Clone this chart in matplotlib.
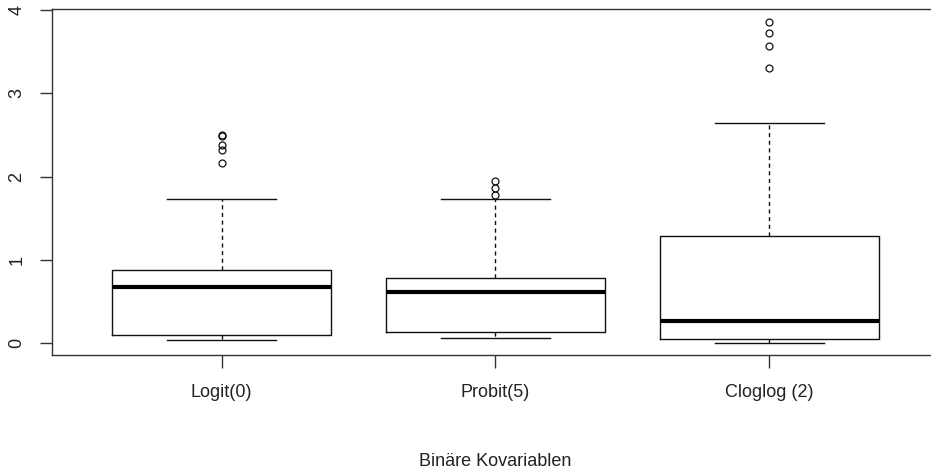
import matplotlib
matplotlib.use("Agg")
import matplotlib.pyplot as plt

plt.rcParams['font.family'] = ['Liberation Sans', 'DejaVu Sans']

# Five-number summaries and outliers per link function
categories = ["Logit(0)", "Probit(5)", "Cloglog (2)"]
whisker_low = [0.036, 0.064, 0.007]
q1 = [0.103, 0.132, 0.048]
median = [0.672, 0.616, 0.264]
q3 = [0.884, 0.784, 1.292]
whisker_high = [1.736, 1.736, 2.641]
outliers = [
    [2.50, 2.49, 2.38, 2.32, 2.16],
    [1.95, 1.86, 1.78],
    [3.86, 3.72, 3.57, 3.30],
]
y_ticks = [0, 1, 2, 3, 4]
x_label = "Binäre Kovariablen"

stats = []
for i, name in enumerate(categories):
    stats.append(dict(label=name, whislo=whisker_low[i], q1=q1[i], med=median[i],
                      q3=q3[i], whishi=whisker_high[i], fliers=outliers[i]))

fig = plt.figure(figsize=(9.31, 4.72), dpi=100)
ax = fig.add_axes([52 / 931, 1 - 355 / 472, 887 / 931, 346 / 472])

line_col = "#111111"
ax.bxp(stats, positions=[1, 2, 3], widths=0.8, capwidths=0.4, showfliers=True,
       boxprops=dict(color=line_col, linewidth=1.0),
       medianprops=dict(color="black", linewidth=3.0, solid_capstyle="butt"),
       whiskerprops=dict(color=line_col, linewidth=1.0, linestyle=(0, (3, 2.5))),
       capprops=dict(color=line_col, linewidth=1.0),
       flierprops=dict(marker="o", markersize=5, markerfacecolor="none",
                       markeredgecolor=line_col, markeredgewidth=0.9))

ax.set_xlim(0.38, 3.62)
ax.set_ylim(-0.14, 4.01)
ax.set_yticks(y_ticks)
ax.set_yticklabels([str(v) for v in y_ticks], rotation=90, va="center")
ax.set_xticks([1, 2, 3])
ax.set_xticklabels(categories)

for s in ax.spines.values():
    s.set_color("#333333")
    s.set_linewidth(1.0)

ax.tick_params(axis="both", length=9, width=1.0, color="#333333",
               labelsize=13, labelcolor="#222222")
ax.tick_params(axis="y", pad=10)
ax.tick_params(axis="x", pad=12)

ax.set_xlabel(x_label, fontsize=13, color="#222222", labelpad=37)

fig.savefig("out.png", dpi=100)
